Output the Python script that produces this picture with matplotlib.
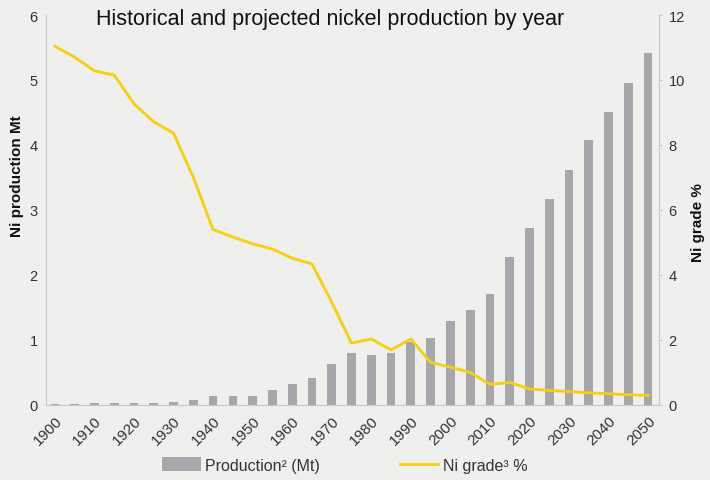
import matplotlib
matplotlib.use("Agg")
import matplotlib.pyplot as plt
from matplotlib.patches import Patch
from matplotlib.lines import Line2D
import numpy as np

plt.rcParams['font.family'] = ['Liberation Sans', 'DejaVu Sans']

years = list(range(1900, 2051, 5))
production = [0.005, 0.005, 0.02, 0.03, 0.025, 0.03, 0.04, 0.07, 0.13, 0.13,
              0.13, 0.22, 0.31, 0.41, 0.62, 0.79, 0.77, 0.80, 0.96, 1.02,
              1.28, 1.45, 1.70, 2.27, 2.72, 3.17, 3.61, 4.07, 4.51, 4.96, 5.42]
grade = [11.04, 10.70, 10.28, 10.15, 9.26, 8.71, 8.36, 7.00, 5.39, 5.16,
         4.95, 4.79, 4.51, 4.33, 3.15, 1.89, 2.02, 1.68, 2.02, 1.30,
         1.15, 0.99, 0.62, 0.68, 0.48, 0.43, 0.40, 0.36, 0.33, 0.30, 0.28]
tick_labels = [str(y) if y % 10 == 0 else '' for y in years]

BG = '#efefed'
BAR = '#a6a7ab'
LINE = '#f7cf0f'
SPINE = '#c8c8c8'
TXT = '#333333'

fig = plt.figure(figsize=(7.1, 4.81), dpi=100, facecolor=BG)
ax = fig.add_axes([46/710, 1-405.5/481, (659-46)/710, (405.5-16)/481])
ax.set_facecolor(BG)
x = np.arange(len(years))
ax.bar(x, production, width=0.44, color=BAR, zorder=2)
ax.set_ylim(0, 6)
ax.set_xlim(-0.45, len(years) - 0.45)
ax.set_yticks(range(0, 7))
ax.set_xticks(x)
ax.set_xticklabels(tick_labels, rotation=45, ha='right', rotation_mode='anchor',
                   fontsize=11, color=TXT)
ax.tick_params(axis='x', length=0, pad=6)
ax.tick_params(axis='y', length=0, pad=6, labelsize=10.5, labelcolor=TXT)
for s in ['top', 'right']:
    ax.spines[s].set_visible(False)
ax.spines['left'].set_color(SPINE)
ax.spines['bottom'].set_color(SPINE)
ax.set_ylabel('Ni production Mt', fontsize=11, fontweight='bold', color='#111111')
ax.yaxis.set_label_coords(-0.036, 0.59)

ax2 = ax.twinx()
ax2.plot(x, grade, color=LINE, lw=2.0, zorder=3)
ax2.set_ylim(0, 12)
ax2.set_yticks(range(0, 13, 2))
ax2.tick_params(axis='y', length=2, color=SPINE, pad=5, labelsize=10.5, labelcolor=TXT)
for s in ['top', 'left', 'bottom']:
    ax2.spines[s].set_visible(False)
ax2.spines['right'].set_color(SPINE)
ax2.set_ylabel('Ni grade %', fontsize=11, fontweight='bold', color='#111111')
ax2.yaxis.set_label_coords(1.052, 0.47)

fig.text(330/710, 1-20/481, 'Historical and projected nickel production by year',
         ha='center', va='center', fontsize=15.5, color='#111111')

handles = [Patch(facecolor=BAR, edgecolor='none'),
           Line2D([0], [0], color=LINE, lw=2.0)]
fig.legend(handles, ['Production² (Mt)', 'Ni grade³ %'], loc='center',
           bbox_to_anchor=(345/710, 1-466/481), ncol=2, frameon=False,
           fontsize=11.5, handlelength=2.4, handleheight=1.0, columnspacing=5.0,
           handletextpad=0.3, labelcolor=TXT)

fig.savefig('out.png', dpi=100, facecolor=BG)
